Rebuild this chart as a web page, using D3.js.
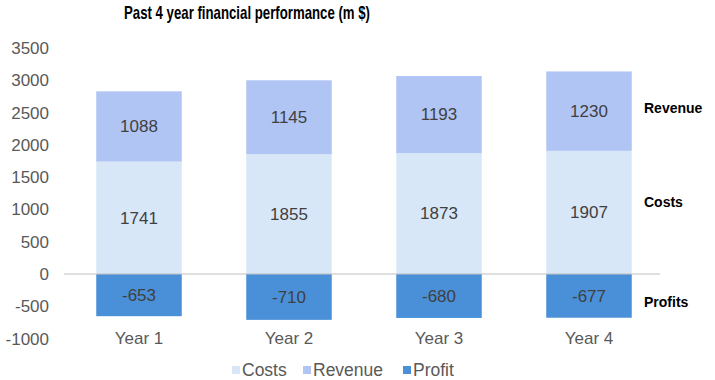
<!DOCTYPE html>
<html>
<head>
<meta charset="utf-8">
<script src="https://cdn.jsdelivr.net/npm/d3@7"></script>
<style>
  body { margin: 0; background: #fff; }
  text { font-family: Arial, "Liberation Sans", sans-serif; }
</style>
</head>
<body>
<svg id="chart" width="715" height="380"></svg>
<script>
var years = ["Year 1", "Year 2", "Year 3", "Year 4"];
var costs = [1741, 1855, 1873, 1907];
var revenue = [1088, 1145, 1193, 1230];
var profit = [-653, -710, -680, -677];
var yTicks = [-1000, -500, 0, 500, 1000, 1500, 2000, 2500, 3000, 3500];
var sideNames = ["Revenue", "Costs", "Profits"];
var sideLevels = [2570, 1120, -430];

var svg = d3.select("#chart");

var x = d3.scaleBand()
    .domain(years)
    .range([64, 664])
    .paddingInner(0.43)
    .paddingOuter(0.215);

var y = d3.scaleLinear()
    .domain([-1000, 3500])
    .range([338.6, 48]);

var colors = { costs: "#d8e7f8", revenue: "#b0c5f4", profit: "#4a90d9" };

// y tick labels
svg.append("g")
    .selectAll("text")
    .data(yTicks)
    .enter().append("text")
    .attr("x", 49)
    .attr("y", function(d) { return y(d); })
    .attr("dy", "0.35em")
    .attr("text-anchor", "end")
    .attr("fill", "#595959")
    .style("font-size", "17px")
    .text(function(d) { return d; });

var rows = years.map(function(yr, i) {
    return { year: yr, costs: costs[i], revenue: revenue[i], profit: profit[i] };
});

var bars = svg.append("g");

// costs
bars.selectAll(".costs")
    .data(rows)
    .enter().append("rect")
    .attr("x", function(d) { return x(d.year); })
    .attr("width", x.bandwidth())
    .attr("y", function(d) { return y(d.costs); })
    .attr("height", function(d) { return y(0) - y(d.costs); })
    .attr("fill", colors.costs);

// revenue stacked on costs
bars.selectAll(".revenue")
    .data(rows)
    .enter().append("rect")
    .attr("x", function(d) { return x(d.year); })
    .attr("width", x.bandwidth())
    .attr("y", function(d) { return y(d.costs + d.revenue); })
    .attr("height", function(d) { return y(d.costs) - y(d.costs + d.revenue); })
    .attr("fill", colors.revenue);

// profit (negative)
bars.selectAll(".profit")
    .data(rows)
    .enter().append("rect")
    .attr("x", function(d) { return x(d.year); })
    .attr("width", x.bandwidth())
    .attr("y", y(0))
    .attr("height", function(d) { return y(d.profit) - y(0); })
    .attr("fill", colors.profit);

// zero line
svg.append("line")
    .attr("x1", 64).attr("x2", 660)
    .attr("y1", y(0)).attr("y2", y(0))
    .attr("stroke", "#bfbfbf")
    .attr("stroke-width", 1);

// value labels
var labels = svg.append("g")
    .attr("fill", "#404040")
    .style("font-size", "17px")
    .attr("text-anchor", "middle");

rows.forEach(function(d) {
    var cx = x(d.year) + x.bandwidth() / 2;
    labels.append("text")
        .attr("x", cx).attr("y", y(d.costs / 2)).attr("dy", "0.35em")
        .text(d.costs);
    labels.append("text")
        .attr("x", cx).attr("y", y(d.costs + d.revenue / 2)).attr("dy", "0.35em")
        .text(d.revenue);
    labels.append("text")
        .attr("x", cx).attr("y", y(d.profit / 2)).attr("dy", "0.35em")
        .text(d.profit);
});

// x axis labels
svg.append("g")
    .selectAll("text")
    .data(years)
    .enter().append("text")
    .attr("x", function(d) { return x(d) + x.bandwidth() / 2; })
    .attr("y", 338)
    .attr("dy", "0.35em")
    .attr("text-anchor", "middle")
    .attr("fill", "#595959")
    .style("font-size", "17px")
    .text(function(d) { return d; });

// right-side series labels
svg.append("g")
    .selectAll("text")
    .data(sideNames)
    .enter().append("text")
    .attr("x", 644)
    .attr("y", function(d, i) { return y(sideLevels[i]); })
    .attr("dy", "0.35em")
    .attr("fill", "#000")
    .style("font-size", "14px")
    .style("font-weight", "bold")
    .text(function(d) { return d; });

// title
svg.append("text")
    .attr("x", 124)
    .attr("y", 19)
    .attr("textLength", 246)
    .attr("lengthAdjust", "spacingAndGlyphs")
    .style("font-size", "18.5px")
    .style("font-weight", "bold")
    .attr("fill", "#000")
    .text("Past 4 year financial performance (m $)");

// legend
var legendItems = [
    { name: "Costs", color: colors.costs, x: 232 },
    { name: "Revenue", color: colors.revenue, x: 303 },
    { name: "Profit", color: colors.profit, x: 403 }
];
var legend = svg.append("g")
    .selectAll("g")
    .data(legendItems)
    .enter().append("g")
    .attr("transform", function(d) { return "translate(" + d.x + ",370)"; });
legend.append("rect")
    .attr("x", 0).attr("y", -4)
    .attr("width", 8).attr("height", 8)
    .attr("fill", function(d) { return d.color; });
legend.append("text")
    .attr("x", 10)
    .attr("dy", "0.35em")
    .attr("fill", "#595959")
    .style("font-size", "17.5px")
    .text(function(d) { return d.name; });
</script>
</body>
</html>
